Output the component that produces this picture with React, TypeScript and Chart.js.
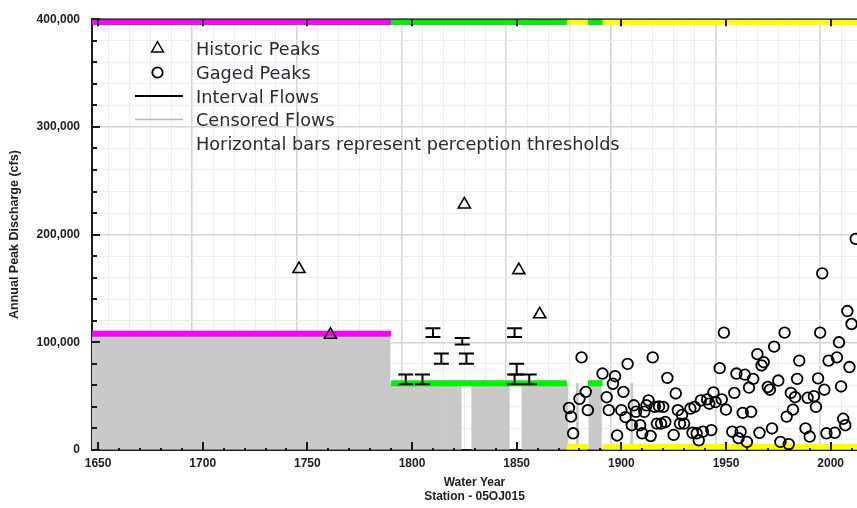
import React, { useEffect, useRef } from 'react';
import { Chart, registerables } from 'chart.js';

Chart.register(...registerables);

// ---- axis ranges ----
const X_MIN = 1647.1;
const X_MAX = 2012.6;
const Y_MIN = 0;
const Y_MAX = 400000;
const TOP_LEVEL = 397500; // unbounded upper perception thresholds are drawn at the top of the plot

// ---- historic peaks (triangles) ----
const historicYears = [1746, 1761, 1825, 1851, 1861];
const historicPeaks = [168000, 107000, 228000, 167000, 126000];

// ---- interval flows (I bars) ----
const intervalYears = [1797, 1805, 1810, 1814, 1824, 1826, 1849, 1849, 1850, 1856];
const intervalLow = [61000, 61000, 105000, 80000, 98000, 80000, 105000, 61000, 70000, 61000];
const intervalHigh = [70000, 70000, 113000, 89500, 104000, 89500, 113000, 70000, 80000, 70000];

// ---- gaged peaks (circles) ----
const gagedYears = [
  1875, 1876, 1877, 1880, 1881, 1883, 1884, 1891, 1893, 1894, 1896, 1897, 1898, 1900, 1901,
  1902, 1903, 1905, 1906, 1907, 1909, 1910, 1911, 1912, 1913, 1914, 1915, 1916, 1917, 1918,
  1919, 1920, 1921, 1922, 1925, 1926, 1927, 1928, 1929, 1930, 1933, 1934, 1935, 1936, 1937,
  1938, 1939, 1941, 1942, 1943, 1944, 1945, 1947, 1948, 1949, 1950, 1953, 1954, 1955, 1956,
  1957, 1958, 1959, 1960, 1961, 1962, 1963, 1965, 1966, 1967, 1968, 1970, 1971, 1972, 1973,
  1975, 1976, 1978, 1979, 1980, 1981, 1982, 1983, 1984, 1985, 1988, 1989, 1990, 1992, 1993,
  1994, 1995, 1996, 1997, 1998, 1999, 2002, 2003, 2004, 2005, 2006, 2007, 2008, 2009, 2010,
  2012,
];
const gagedPeaks = [
  39000, 31000, 15500, 47500, 86000, 54000, 37000, 71000, 49000, 37000, 61500, 68500, 13500, 37000, 54000,
  30500, 80000, 23000, 41500, 35500, 23000, 15500, 35500, 41500, 46000, 13000, 86000, 40000, 24500, 40500,
  24500, 40000, 26000, 67000, 14000, 52500, 37000, 24500, 32500, 24500, 38500, 16000, 40000, 15500, 9000,
  46000, 17000, 47000, 43000, 18500, 53500, 44500, 76000, 47000, 109000, 37500, 17000, 53000, 71000, 11000,
  17000, 34500, 70000, 7500, 58000, 35500, 66000, 89000, 16000, 78500, 81500, 58500, 56000, 20000, 96000,
  64500, 7500, 109000, 31000, 5500, 53000, 37500, 49000, 66000, 83000, 20000, 48500, 12500, 50000, 40000,
  66500, 109000, 164000, 56000, 15500, 83000, 16000, 86000, 100000, 59000, 29000, 23000, 129000, 77000, 117000,
  196000,
];

// ---- perception thresholds (horizontal bars) ----
const thresholdStart = [1647, 1790, 1874, 1884, 1891];
const thresholdEnd = [1790, 1874, 1884, 1891, 2013];
const thresholdLower = [108000, 62000, 3000, 62000, 3000];

// ---- censored flows (gray vertical bars), year ranges ----
const censoredStart = [1647, 1790, 1829, 1853, 1874, 1879, 1885, 1905];
const censoredEnd = [1789, 1823, 1846, 1873, 1874, 1879, 1890, 1905];
const censoredFlow = [108000, 62000, 62000, 62000, 62000, 62000, 62000, 62000];

// ---- text ----
const legendLabels = [
  'Historic Peaks',
  'Gaged Peaks',
  'Interval Flows',
  'Censored Flows',
  'Horizontal bars represent perception thresholds',
];
const xTitle = ['Water Year', 'Station - 05OJ015'];
const yTitle = 'Annual Peak Discharge (cfs)';

// styles (kept apart from the data)
const THRESHOLD_COLORS = ['#ff00ff', '#00f000', '#ffff00'];
const periodColorIndex = [0, 1, 2, 1, 2];
const AXIS_FONT = 'Liberation Sans';
const TEXT_COLOR = '#1c1c22';

function buildThresholdData(colorIdx: number) {
  const pts: any[] = [];
  thresholdStart.forEach((s, i) => {
    if (periodColorIndex[i] !== colorIdx) return;
    const e = thresholdEnd[i];
    pts.push({ x: s, y: TOP_LEVEL }, { x: e, y: TOP_LEVEL }, { x: e, y: null });
    pts.push({ x: s, y: thresholdLower[i] }, { x: e, y: thresholdLower[i] }, { x: e, y: null });
  });
  return pts;
}

function buildCensoredData() {
  const pts: any[] = [];
  censoredStart.forEach((s, i) => {
    for (let yr = s; yr <= censoredEnd[i]; yr++) pts.push({ x: yr, y: censoredFlow[i] });
  });
  return pts;
}

function buildIntervalData() {
  const pts: any[] = [];
  intervalYears.forEach((yr, i) => {
    pts.push({ x: yr, y: intervalLow[i] }, { x: yr, y: intervalHigh[i] }, { x: yr, y: null });
  });
  return pts;
}

const axisDecor = {
  id: 'axisDecor',
  afterDatasetsDraw(chart: any) {
    const { ctx, chartArea: a, scales } = chart;
    const xs = scales.x;
    const ys = scales.y;
    ctx.save();
    ctx.strokeStyle = '#1a1a1a';
    ctx.lineWidth = 1.3;
    ctx.beginPath();
    ctx.moveTo(a.left, a.top);
    ctx.lineTo(a.right, a.top);
    ctx.stroke();
    ctx.lineWidth = 2;
    ctx.beginPath();
    xs.ticks.forEach((t: any) => {
      const px = Math.round(xs.getPixelForValue(t.value));
      const major = Math.round(t.value) % 50 === 0;
      const len = major ? 8 : 2;
      ctx.moveTo(px, a.bottom);
      ctx.lineTo(px, a.bottom - len);
      if (major) {
        ctx.moveTo(px, a.top);
        ctx.lineTo(px, a.top + 7);
      }
    });
    ys.ticks.forEach((t: any) => {
      const py = Math.round(ys.getPixelForValue(t.value));
      const major = t.value % 100000 === 0;
      const len = major ? 8 : 5;
      ctx.moveTo(a.left, py);
      ctx.lineTo(a.left + len, py);
    });
    ctx.stroke();
    ctx.restore();
  },
};

const inlineLegend = {
  id: 'inlineLegend',
  afterDraw(chart: any) {
    const { ctx } = chart;
    ctx.save();
    const markerX = 157.5;
    const textX = 196;
    const base0 = 55;
    const step = 23.8;
    ctx.strokeStyle = '#000';
    ctx.lineWidth = 1.5;
    const r = 6.8;
    const cy = 48.5;
    ctx.beginPath();
    for (let k = 0; k < 3; k++) {
      const ang = -Math.PI / 2 + (k * 2 * Math.PI) / 3;
      const px = markerX + Math.cos(ang) * r;
      const py = cy + Math.sin(ang) * r;
      if (k === 0) ctx.moveTo(px, py);
      else ctx.lineTo(px, py);
    }
    ctx.closePath();
    ctx.stroke();
    ctx.lineWidth = 1.8;
    ctx.beginPath();
    ctx.arc(markerX, 72.5, 5.2, 0, Math.PI * 2);
    ctx.stroke();
    ctx.lineWidth = 2;
    ctx.beginPath();
    ctx.moveTo(135, 96);
    ctx.lineTo(183, 96);
    ctx.stroke();
    ctx.strokeStyle = '#b8b8b8';
    ctx.lineWidth = 1.5;
    ctx.beginPath();
    ctx.moveTo(135, 119.5);
    ctx.lineTo(183, 119.5);
    ctx.stroke();
    ctx.fillStyle = '#2a2a34';
    ctx.font = '17.7px "DejaVu Sans"';
    ctx.textBaseline = 'alphabetic';
    ctx.textAlign = 'left';
    legendLabels.forEach((t, i) => ctx.fillText(t, textX, base0 + i * step));
    ctx.restore();
  },
};

export default function App() {
  const ref = useRef<HTMLCanvasElement | null>(null);

  useEffect(() => {
    if (!ref.current) return;
    const gridColor = (major: boolean) => (major ? '#d5d5d5' : '#ececec');
    const chart = new Chart(ref.current, {
      type: 'scatter',
      data: {
        datasets: [
          {
            type: 'scatter',
            label: 'Historic Peaks',
            data: historicYears.map((x, i) => ({ x, y: historicPeaks[i] })),
            pointStyle: 'triangle',
            pointRadius: 7,
            pointBorderWidth: 1.6,
            borderColor: '#000',
            backgroundColor: 'rgba(0,0,0,0)',
            order: 0,
          } as any,
          {
            type: 'scatter',
            label: 'Gaged Peaks',
            data: gagedYears.map((x, i) => ({ x, y: gagedPeaks[i] })),
            pointStyle: 'circle',
            pointRadius: 5.3,
            pointBorderWidth: 1.8,
            borderColor: '#000',
            backgroundColor: 'rgba(0,0,0,0)',
            order: 1,
          } as any,
          {
            type: 'line',
            label: 'Interval Flows',
            data: buildIntervalData(),
            borderColor: '#000',
            borderWidth: 2,
            pointStyle: 'line',
            pointRadius: 7.5,
            pointBorderWidth: 2,
            pointBorderColor: '#000',
            spanGaps: false,
            fill: false,
            order: 2,
          } as any,
          ...[0, 1, 2].map((ci) => ({
            type: 'line',
            label: 'threshold' + ci,
            data: buildThresholdData(ci),
            borderColor: THRESHOLD_COLORS[ci],
            borderWidth: 6,
            borderCapStyle: 'butt',
            pointRadius: 0,
            spanGaps: false,
            fill: false,
            clip: 0,
            order: 3,
          })) as any[],
          {
            type: 'bar',
            label: 'Censored Flows',
            data: buildCensoredData(),
            backgroundColor: '#c9c9c9',
            borderWidth: 0,
            barPercentage: 1,
            categoryPercentage: 1,
            grouped: false,
            clip: 0,
            order: 4,
          } as any,
        ],
      },
      options: {
        animation: false,
        responsive: false,
        maintainAspectRatio: false,
        devicePixelRatio: 1,
        layout: { autoPadding: false, padding: { top: 16, right: 0, left: 0, bottom: 0 } },
        plugins: { legend: { display: false }, tooltip: { enabled: false } },
        scales: {
          x: {
            type: 'linear',
            min: X_MIN,
            max: X_MAX,
            offset: false,
            afterFit: (s: any) => {
              s.height = 58;
              s.paddingLeft = 0;
              s.paddingRight = 0;
            },
            ticks: {
              stepSize: 10,
              includeBounds: false,
              autoSkip: false,
              maxRotation: 0,
              minRotation: 0,
              padding: 6,
              color: TEXT_COLOR,
              font: { family: AXIS_FONT, size: 12, weight: 'bold' },
              callback: (v: any) => (Math.round(v) % 50 === 0 ? String(Math.round(v)) : ''),
            },
            grid: {
              drawTicks: false,
              color: (c: any) => gridColor(c.tick && Math.round(c.tick.value) % 50 === 0),
              lineWidth: (c: any) => (c.tick && Math.round(c.tick.value) % 50 === 0 ? 1.6 : 1),
            },
            border: { display: true, color: '#1a1a1a', width: 2 },
            title: {
              display: true,
              text: xTitle,
              color: TEXT_COLOR,
              font: { family: AXIS_FONT, size: 12, weight: 'bold', lineHeight: '14px' },
              padding: { top: 0, bottom: 4 },
            },
          },
          y: {
            type: 'linear',
            min: Y_MIN,
            max: Y_MAX,
            afterFit: (s: any) => {
              s.width = 92;
            },
            ticks: {
              stepSize: 20000,
              includeBounds: false,
              autoSkip: false,
              padding: 12,
              color: TEXT_COLOR,
              font: { family: AXIS_FONT, size: 12, weight: 'bold' },
              callback: (v: any) => (v % 100000 === 0 ? Number(v).toLocaleString('en-US') : ''),
            },
            grid: {
              drawTicks: false,
              color: (c: any) => gridColor(c.tick && c.tick.value % 100000 === 0),
              lineWidth: (c: any) => (c.tick && c.tick.value % 100000 === 0 ? 1.6 : 1),
            },
            border: { display: true, color: '#1a1a1a', width: 2 },
            title: {
              display: true,
              text: yTitle,
              color: TEXT_COLOR,
              font: { family: AXIS_FONT, size: 12.5, weight: 'bold', lineHeight: '14px' },
              padding: { top: 8, bottom: 0 },
            },
          },
        },
      } as any,
      plugins: [axisDecor, inlineLegend],
    });
    return () => chart.destroy();
  }, []);

  return (
    <div style={{ position: 'absolute', left: 0, top: 0, width: 857, height: 508, background: '#fff', overflow: 'hidden' }}>
      <canvas ref={ref} width={857} height={508} style={{ display: 'block', width: 857, height: 508 }} />
    </div>
  );
}
